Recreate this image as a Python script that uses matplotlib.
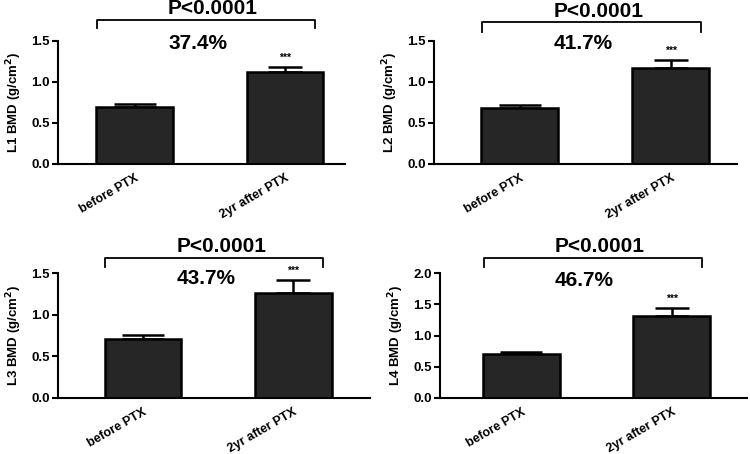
import matplotlib.pyplot as plt

# donnees
groupes = ["before PTX", "2yr after PTX"]
vertebres = ["L1", "L2", "L3", "L4"]
moyennes_L1 = [0.695, 1.12]
erreurs_L1 = [0.035, 0.06]
moyennes_L2 = [0.68, 1.17]
erreurs_L2 = [0.04, 0.10]
moyennes_L3 = [0.71, 1.26]
erreurs_L3 = [0.046, 0.156]
moyennes_L4 = [0.70, 1.31]
erreurs_L4 = [0.035, 0.13]
hausses = ["37.4%", "41.7%", "43.7%", "46.7%"]
p_valeur = "P<0.0001"
ymax = [1.5, 1.5, 1.5, 2.0]
yticks = [[0.0, 0.5, 1.0, 1.5], [0.0, 0.5, 1.0, 1.5],
          [0.0, 0.5, 1.0, 1.5], [0.0, 0.5, 1.0, 1.5, 2.0]]

moyennes = [moyennes_L1, moyennes_L2, moyennes_L3, moyennes_L4]
erreurs = [erreurs_L1, erreurs_L2, erreurs_L3, erreurs_L4]

plt.rcParams['font.family'] = ['Liberation Sans', 'DejaVu Sans']
plt.rcParams['font.weight'] = 'bold'

fig = plt.figure(figsize=(7.5, 4.54), dpi=100)

# position des axes (px -> fraction)
W, H = 750, 454
cadres = [(58, 345, 41, 164), (434, 737, 41, 164),
          (58, 370, 273, 398), (440, 747, 273, 398)]
xlims = [(-0.51, 1.40), (-0.57, 1.44), (-0.565, 1.51), (-0.54, 1.50)]
# crochet : hauteur, pieds, texte P, texte % (fraction d'axe)
crochet_y = [1.171, 1.155, 1.12, 1.12]
pieds_y = [1.106, 1.075, 1.048, 1.048]
p_y = [1.262, 1.24, 1.21, 1.21]
pct_y = [0.983, 0.983, 0.952, 0.944]

for i in range(4):
    x0, x1, yt, yb = cadres[i]
    ax = fig.add_axes([x0 / W, 1 - yb / H, (x1 - x0) / W, (yb - yt) / H])
    pos = [0, 1]
    ax.bar(pos, moyennes[i], width=0.51, color='#262626', edgecolor='black',
           linewidth=1.8, zorder=2)
    for j in range(2):
        ax.errorbar(pos[j], moyennes[i][j], yerr=[[0], [erreurs[i][j]]],
                    fmt='none', ecolor='black', elinewidth=1.8,
                    capsize=15 if j == 0 else 12, capthick=1.8, zorder=1)
    # etoiles au dessus du groupe apres PTX
    ax.annotate("***", (1, moyennes[i][1] + erreurs[i][1]), xytext=(0, 3),
                textcoords='offset points', ha='center', va='bottom',
                fontsize=7.5)
    ax.set_xlim(*xlims[i])
    ax.set_ylim(0, ymax[i])
    ax.set_yticks(yticks[i])
    ax.set_yticklabels([f"{v:.1f}" for v in yticks[i]], fontsize=9.5,
                       fontweight='bold')
    ax.set_xticks(pos)
    ax.set_xticklabels(groupes, rotation=30, ha='right',
                       rotation_mode='anchor', fontsize=9, fontweight='bold')
    ax.tick_params(axis='x', length=0, pad=6)
    ax.tick_params(axis='y', length=4, width=1.5, pad=2)
    ax.spines['top'].set_visible(False)
    ax.spines['right'].set_visible(False)
    ax.spines['left'].set_linewidth(1.5)
    ax.spines['bottom'].set_linewidth(1.5)
    ax.set_ylabel(vertebres[i] + " BMD (g/cm$^\\mathbf{2}$)", fontsize=9.5,
                  fontweight='bold', labelpad=5)

    # crochet de comparaison
    tr = ax.get_xaxis_transform()
    ax.plot([-0.25, -0.25, 1.2, 1.2],
            [pieds_y[i], crochet_y[i], crochet_y[i], pieds_y[i]],
            color='black', linewidth=1.3, transform=tr, clip_on=False)
    ax.text(0.52, p_y[i], p_valeur, transform=tr, ha='center', va='center',
            fontsize=15, fontweight='bold')
    ax.text(0.42, pct_y[i], hausses[i], transform=tr, ha='center',
            va='center', fontsize=15, fontweight='bold')

fig.savefig("out.png", dpi=100)
